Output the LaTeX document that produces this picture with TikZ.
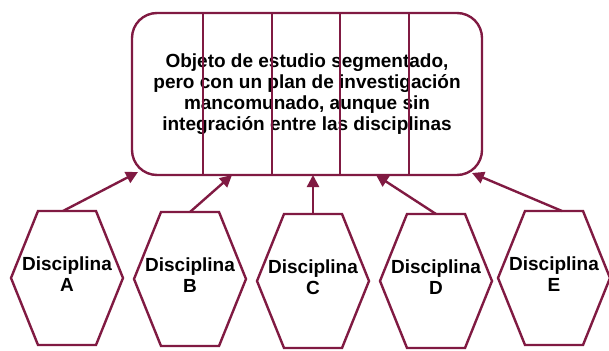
\documentclass[tikz,border=0pt]{standalone}
\usepackage{fontspec}
\setmainfont{Liberation Sans}
\usetikzlibrary{positioning, arrows.meta, calc}
\definecolor{vino}{RGB}{128,26,66}
\tikzset{
  >={Triangle[length=12pt,width=12pt]},
  line/.style={draw=vino, line width=2.4pt},
  objeto/.style={line, rounded corners=25pt, outer sep=0pt,
    minimum width=350pt, minimum height=162pt, align=center,
    font=\bfseries\fontsize{19}{21}\selectfont},
  disciplina/.style={align=center, font=\bfseries\fontsize{19}{21}\selectfont},
}

\begin{document}
\begin{tikzpicture}[x=1pt, y=-1pt]
  \useasboundingbox (0,0) rectangle (609,350);

  % objeto de estudio
  \node[objeto] (obj) at (307,94) {Objeto de estudio segmentado,\\pero con un plan de investigación\\mancomunado, aunque sin\\integración entre las disciplinas};
  \foreach \x in {71,140,208,277}
    \draw[line] ($(obj.north west)+(\x,0)$) -- ($(obj.south west)+(\x,0)$);

  % disciplinas
  \foreach \n/\cx/\cy in {A/67/278, B/190/279, C/313/281, D/436/281, E/554/278} {
    \coordinate (h\n) at (\cx,\cy);
    \coordinate (t\n) at ($(h\n)+(0,-67)$);
    \draw[line] (h\n) ++(-56,0) -- ++(27,-67) -- ++(58,0) -- ++(27,67)
      -- ++(-27,67) -- ++(-58,0) -- cycle;
    \node[disciplina] (d\n) at ($(h\n)+(0,-4)$) {Disciplina\\\n};
  }

  % flechas
  \draw[line, ->] ($(tA)+(-4,0)$) -- ($(obj.south west)+(6,-3)$);
  \draw[line, ->] (tB) -- ($(obj.south)+(-75,0)$);
  \draw[line, ->] (tC) -- ($(obj.south)+(6,0)$);
  \draw[line, ->] (tD) -- ($(obj.south)+(69,0)$);
  \draw[line, ->] ($(tE)+(8,0)$) -- ($(obj.south east)+(-10,-2)$);
\end{tikzpicture}
\end{document}
